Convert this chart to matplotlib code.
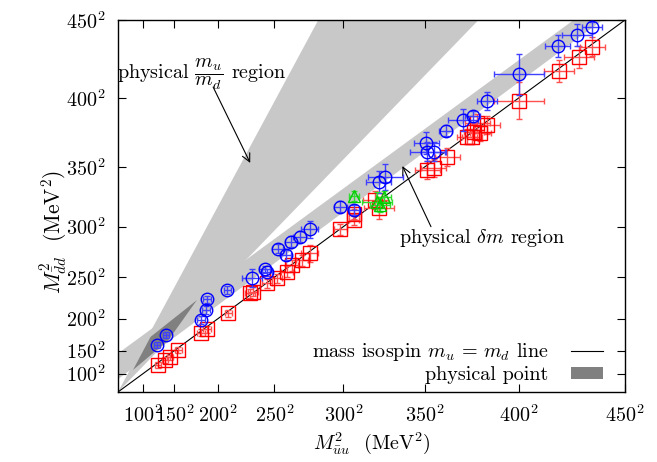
import matplotlib
matplotlib.use("Agg")
import matplotlib.pyplot as plt
from matplotlib.lines import Line2D
from matplotlib.patches import Patch, Polygon

plt.rcParams['font.family'] = 'serif'
plt.rcParams['font.serif'] = ['cmr10']
plt.rcParams['mathtext.fontset'] = 'cm'
plt.rcParams['axes.formatter.use_mathtext'] = True
plt.rcParams['font.size'] = 14.5

# masses in MeV (points are plotted as M^2)
blue_x = [124.4, 138.6, 181.9, 187.6, 188.4, 209.1, 231.3, 241.9, 243.9, 252.4, 259.2, 263.0, 269.3, 276.7,
          298.0, 307.3, 322.7, 326.8, 351.0, 351.4, 355.1, 361.7, 371.0, 376.5, 384.0, 400.2, 419.2, 428.0, 435.3]
blue_y = [160.0, 176.1, 198.0, 211.3, 224.6, 235.6, 248.8, 258.4, 255.3, 279.3, 273.1, 286.0, 290.8, 297.6,
          317.6, 314.7, 338.3, 341.9, 367.9, 361.7, 361.7, 377.1, 384.8, 387.6, 398.2, 415.8, 434.0, 440.8, 445.6]
# errors on M^2 (MeV^2)
blue_xerr = [1200, 1200, 1500, 1500, 1500, 1500, 4000, 2000, 2000, 2000, 2000, 2500, 2500, 3500,
             2500, 2000, 5000, 7000, 5000, 7000, 5000, 2500, 6000, 3000, 4000, 10000, 5000, 6000, 4000]
blue_yerr = [1500, 1500, 2000, 2000, 2000, 2000, 5000, 2000, 2000, 2500, 2500, 3000, 3000, 4500,
             3000, 2500, 6000, 7000, 6000, 5000, 5000, 3000, 6000, 3000, 5000, 11000, 6000, 6000, 3000]

red_x = [126.0, 137.1, 144.2, 155.3, 181.9, 188.4, 210.0, 229.8, 232.6, 243.9, 252.0, 259.8, 263.6, 271.0,
         276.7, 298.0, 307.3, 306.8, 320.6, 322.7, 351.4, 355.1, 362.6, 373.5, 376.1, 376.9, 380.5, 378.8,
         384.0, 400.2, 419.6, 429.1, 435.3]
red_y = [121.2, 132.0, 137.4, 151.2, 179.7, 184.7, 207.0, 231.8, 233.7, 243.2, 248.8, 255.9, 262.9, 268.0,
         274.8, 297.6, 305.9, 311.3, 323.3, 316.2, 347.6, 349.0, 357.9, 372.8, 372.8, 376.4, 375.2, 382.4,
         381.2, 398.2, 418.0, 427.2, 433.6]
red_xerr = [1200, 1200, 1200, 1500, 1500, 1500, 1500, 2000, 2000, 2000, 2000, 2500, 2500, 2500,
            3500, 2500, 2000, 2000, 5000, 6000, 5000, 5000, 5000, 4000, 4000, 4000, 4000, 5000,
            5000, 10000, 6000, 6000, 5000]
red_yerr = [1500, 1500, 1500, 1500, 2000, 2000, 2000, 2500, 2500, 2500, 2500, 3000, 3000, 3000,
            4500, 3000, 2500, 2500, 5000, 6000, 5000, 5000, 5000, 4000, 4000, 4000, 4000, 5000,
            5000, 10000, 6000, 6000, 5000]

green_x = [306.8, 321.7, 325.7, 323.7]
green_y = [326.6, 321.9, 326.0, 319.1]
green_xerr = [2000, 6000, 3000, 4000]
green_yerr = [2500, 5000, 3000, 4000]

# shaded regions, corners in MeV^2
mumd_band = [(0, 0), (80000, 202500), (144000, 202500)]
dm_band = [(0, 21000), (182000, 202500), (193600, 202500), (0, 7000)]
phys_point = [(6000, 12000), (13000, 30000), (31500, 50000), (20000, 28000)]

ticks_m = [100, 150, 200, 250, 300, 350, 400, 450]
lim = 450 ** 2

fig = plt.figure(figsize=(6.57, 4.62), dpi=100)
ax = fig.add_axes([118 / 657, 70 / 462, 507 / 657, 372 / 462])

ax.add_patch(Polygon(mumd_band, closed=True, facecolor='#c8c8c8', edgecolor='none', zorder=1))
ax.add_patch(Polygon(dm_band, closed=True, facecolor='#c8c8c8', edgecolor='none', zorder=1))
ax.add_patch(Polygon(phys_point, closed=True, facecolor='#808080', edgecolor='none', zorder=2))

ax.plot([0, lim], [0, lim], color='black', lw=0.8, zorder=3)

def sq(v):
    return [a * a for a in v]

ax.errorbar(sq(red_x), sq(red_y), xerr=red_xerr, yerr=red_yerr, fmt='s', ms=9.5, mfc='none',
            mec='red', ecolor='#ff5050', elinewidth=1, capsize=2.5, mew=1, zorder=4)
ax.errorbar(sq(blue_x), sq(blue_y), xerr=blue_xerr, yerr=blue_yerr, fmt='o', ms=9, mfc='none',
            mec='blue', ecolor='#4040ff', elinewidth=1, capsize=2.5, mew=1, zorder=5)
ax.errorbar(sq(green_x), sq(green_y), xerr=green_xerr, yerr=green_yerr, fmt='^', ms=8, mfc='none',
            mec='#00cc00', ecolor='#30dd30', elinewidth=1, capsize=2.5, mew=1, zorder=6)

ax.set_xlim(0, lim)
ax.set_ylim(0, lim)
ax.set_xticks(sq(ticks_m))
ax.set_yticks(sq(ticks_m))
ax.set_xticklabels([r'$%d^2$' % t for t in ticks_m])
ax.set_yticklabels([r'$%d^2$' % t for t in ticks_m])
ax.tick_params(direction='in', length=6, width=0.8, top=True, right=True, labelsize=14.5)
ax.tick_params(axis='x', pad=9)
ax.tick_params(axis='y', pad=9)
for s in ax.spines.values():
    s.set_linewidth(1)

ax.set_xlabel(r'$M^2_{\bar{u}u}$  (MeV$^2$)', fontsize=14.5, labelpad=3)
ax.set_ylabel(r'$M^2_{\bar{d}d}$  (MeV$^2$)', fontsize=15.5)
ax.yaxis.set_label_coords(-0.095, 0.43)

ax.text(33600, 172600, r'physical $\dfrac{m_u}{m_d}$ region', ha='center', va='center', fontsize=14.5)
ax.annotate('', xy=(52800, 124700), xytext=(38000, 166000),
            arrowprops=dict(arrowstyle='->', color='black', lw=0.8, shrinkA=0, shrinkB=0))
ax.text(145600, 83800, r'physical $\delta m$ region', ha='center', va='center', fontsize=14.5)
ax.annotate('', xy=(113600, 123000), xytext=(125000, 90000),
            arrowprops=dict(arrowstyle='->', color='black', lw=0.8, shrinkA=0, shrinkB=0))

handles = [Line2D([0], [0], color='black', lw=0.8), Patch(facecolor='#808080', edgecolor='none')]
ax.legend(handles, [r'mass isospin $m_u\,=\,m_d$ line', 'physical point'], loc='lower right',
          bbox_to_anchor=(0.98, -0.012), markerfirst=False, frameon=False, fontsize=14.5,
          handlelength=1.6, handleheight=0.5, borderaxespad=0.2, labelspacing=0.15,
          handletextpad=1.1)

fig.savefig('out.png', dpi=100)
